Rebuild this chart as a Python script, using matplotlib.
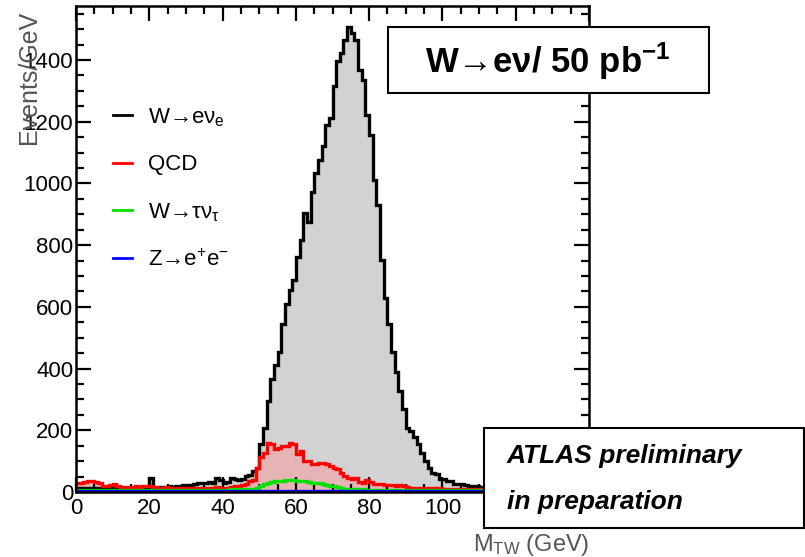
import numpy as np
import matplotlib
import matplotlib.pyplot as plt
from matplotlib.patches import Rectangle
from matplotlib.ticker import MultipleLocator

matplotlib.use("Agg")

SANS = ["Liberation Sans", "DejaVu Sans"]
plt.rcParams["font.family"] = SANS
plt.rcParams["mathtext.fontset"] = "custom"
plt.rcParams["mathtext.rm"] = "Liberation Sans"
plt.rcParams["mathtext.it"] = "Liberation Sans:italic"
plt.rcParams["mathtext.bf"] = "Liberation Sans:bold"

# 1 GeV bins, 0..120 GeV
bin_edges = np.arange(0, 121, 1)

w_enu = [
    12, 12, 14, 12, 10, 12, 14, 10, 12, 14,
    12, 10, 12, 14, 12, 12, 10, 14, 12, 14,
    46, 14, 12, 16, 14, 20, 16, 20, 18, 22,
    24, 22, 26, 28, 30, 28, 32, 30, 44, 40,
    30, 34, 46, 42, 40, 41, 52, 55, 68, 79,
    155, 209, 296, 366, 410, 455, 545, 610, 654, 686,
    762, 816, 903, 876, 973, 1034, 1076, 1120, 1190, 1213,
    1315, 1396, 1424, 1466, 1508, 1489, 1466, 1369, 1336, 1223,
    1158, 1011, 930, 751, 628, 546, 453, 388, 328, 270,
    209, 198, 177, 155, 128, 101, 79, 63, 57, 41,
    41, 36, 36, 25, 25, 25, 22, 20, 20, 18,
    15, 14, 12, 12, 10, 10, 8, 8, 6, 6,
]

qcd = [
    28, 30, 34, 36, 36, 34, 30, 20, 20, 24,
    25, 18, 16, 16, 15, 16, 18, 16, 20, 18,
    20, 16, 14, 14, 15, 14, 12, 14, 14, 12,
    12, 10, 12, 14, 12, 12, 14, 14, 16, 14,
    14, 12, 16, 18, 20, 22, 25, 36, 38, 79,
    112, 128, 160, 155, 139, 144, 148, 150, 160, 155,
    122, 133, 101, 101, 90, 90, 95, 95, 92, 85,
    78, 73, 63, 52, 45, 41, 46, 32, 30, 38,
    34, 25, 27, 25, 22, 24, 22, 20, 22, 18,
    16, 14, 14, 14, 14, 14, 14, 14, 14, 14,
    10, 10, 10, 10, 10, 10, 10, 10, 10, 10,
    10, 10, 10, 10, 10, 10, 10, 10, 10, 10,
]

w_taunu = [
    7, 7, 6, 7, 6, 6, 7, 6, 6, 7,
    6, 6, 7, 6, 6, 6, 7, 6, 6, 6,
    6, 6, 7, 6, 6, 6, 6, 7, 6, 6,
    6, 6, 7, 6, 6, 6, 7, 6, 6, 7,
    7, 8, 9, 9, 9, 9, 10, 9, 10, 14,
    20, 26, 30, 34, 36, 37, 37, 38, 38, 38,
    37, 37, 36, 34, 30, 28, 28, 26, 22, 20,
    18, 16, 12, 11, 11, 11, 11, 11, 11, 8,
    7, 7, 6, 6, 6, 6, 6, 6, 6, 6,
    6, 6, 6, 6, 6, 6, 6, 6, 6, 6,
    6, 6, 6, 6, 6, 6, 6, 6, 6, 6,
    6, 6, 6, 6, 6, 6, 6, 6, 6, 6,
]

z_ee = [2] * 120

labels = [r"W→eν$_{\mathrm{e}}$", "QCD", r"W→τν$_{\mathrm{τ}}$", r"Z→e$^{+}$e$^{-}$"]
colors = ["black", "#ff0000", "#00e000", "#0000ff"]

fig = plt.figure(figsize=(8.05, 5.57), dpi=100)
ax = fig.add_axes([76 / 805, 1 - 492 / 557, 513 / 805, 486 / 557])

# filled areas
ax.stairs(w_enu, bin_edges, fill=True, color="#d2d2d2", zorder=1)
ax.stairs(qcd, bin_edges, fill=True, color="#e6b4b4", zorder=1.1)

# outlines
for vals, col in zip([w_enu, qcd, w_taunu, z_ee], colors):
    ax.stairs(vals, bin_edges, color=col, linewidth=2.4, baseline=None, zorder=2)

ax.set_xlim(0, 140)
ax.set_ylim(0, 1575)

ax.xaxis.set_major_locator(MultipleLocator(20))
ax.xaxis.set_minor_locator(MultipleLocator(5))
ax.yaxis.set_major_locator(MultipleLocator(200))
ax.yaxis.set_minor_locator(MultipleLocator(50))
ax.tick_params(which="both", direction="in", top=True, right=True,
               width=1.6, labelsize=16, colors="black")
ax.tick_params(which="major", length=11)
ax.tick_params(which="minor", length=6)
ax.tick_params(axis="y", pad=2)
ax.tick_params(axis="x", pad=4)
for sp in ax.spines.values():
    sp.set_linewidth(1.8)

ax.set_ylabel("Events/GeV", loc="top", fontsize=18, color="#555555")
ax.yaxis.set_label_coords(-0.068, 0.99)
ax.set_xlabel(r"M$_{\mathrm{TW}}$ (GeV)", loc="right", fontsize=17,
              color="#555555")
ax.xaxis.set_label_coords(1.0, -0.083)

leg = ax.legend(handles=[plt.Line2D([], [], color=c, lw=2) for c in colors],
                labels=labels, loc="upper left", bbox_to_anchor=(0.033, 0.835),
                frameon=False, fontsize=16, handlelength=0.85,
                handletextpad=0.75, labelspacing=1.15)

# title box
fig.add_artist(Rectangle((388 / 805, 1 - 93 / 557), 321 / 805, 66 / 557,
                         transform=fig.transFigure, facecolor="white",
                         edgecolor="black", linewidth=1.5, zorder=5))
fig.text(548 / 805, 1 - 61 / 557, r"W→eν/ 50 pb$^{\mathbf{-1}}$",
         ha="center", va="center", fontsize=25, fontweight="bold", zorder=6)

# ATLAS box
fig.add_artist(Rectangle((484 / 805, 1 - 528 / 557), 320 / 805, 100 / 557,
                         transform=fig.transFigure, facecolor="white",
                         edgecolor="black", linewidth=1.5, zorder=5))
fig.text(507 / 805, 1 - 456 / 557, "ATLAS preliminary", ha="left",
         va="center", fontsize=19, fontweight="bold", fontstyle="italic",
         zorder=6)
fig.text(507 / 805, 1 - 502 / 557, "in preparation", ha="left",
         va="center", fontsize=19, fontweight="bold", fontstyle="italic",
         zorder=6)

fig.savefig("out.png", dpi=100)
